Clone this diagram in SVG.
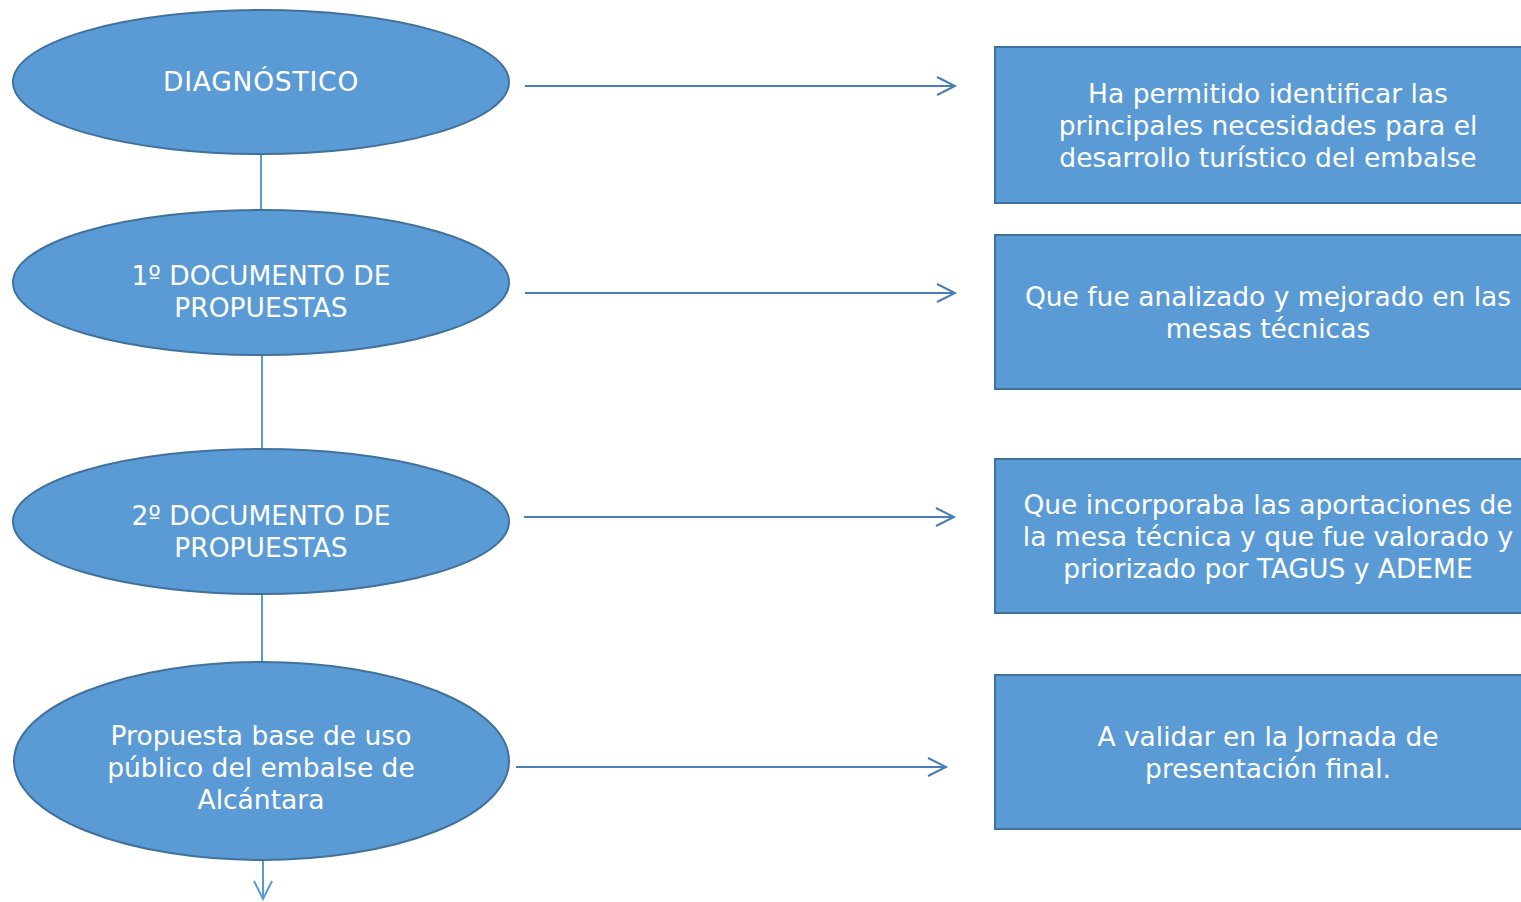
<svg xmlns="http://www.w3.org/2000/svg" width="1521" height="902" viewBox="0 0 1521 902">
<defs>
<style>
.node{fill:#5B9BD5;stroke:#41719C;stroke-width:2}
.t{font-family:"DejaVu Sans","Liberation Sans",sans-serif;font-size:26.5px;fill:#FFFFFF;text-anchor:middle}
.v{stroke:#5B9BD5;stroke-width:2;fill:none}
.h{stroke:#4A7EBB;stroke-width:2;fill:none}
</style>
<marker id="ah" markerUnits="userSpaceOnUse" markerWidth="24" markerHeight="24" viewBox="-20 -12 24 24" refX="0" refY="0" orient="auto">
<path d="M-18,-9 L0,0 L-18,9" fill="none" stroke="#4A7EBB" stroke-width="2"/>
</marker>
<marker id="av" markerUnits="userSpaceOnUse" markerWidth="24" markerHeight="24" viewBox="-20 -12 24 24" refX="0" refY="0" orient="auto">
<path d="M-18,-9 L0,0 L-18,9" fill="none" stroke="#5B9BD5" stroke-width="2"/>
</marker>
</defs>
<rect width="1521" height="902" fill="#FFFFFF"/>
<g id="connectors">
<line class="v" x1="261" y1="154" x2="261" y2="210"/>
<line class="v" x1="262" y1="355" x2="262" y2="449"/>
<line class="v" x1="262" y1="594" x2="262" y2="662"/>
<line class="v" x1="263" y1="860" x2="263" y2="899" marker-end="url(#av)"/>
<line class="h" x1="525" y1="86" x2="955" y2="86" marker-end="url(#ah)"/>
<line class="h" x1="525" y1="293" x2="955" y2="293" marker-end="url(#ah)"/>
<line class="h" x1="524" y1="517" x2="954" y2="517" marker-end="url(#ah)"/>
<line class="h" x1="516" y1="767" x2="946" y2="767" marker-end="url(#ah)"/>
</g>
<g id="n1">
<ellipse class="node" cx="261" cy="82" rx="248" ry="72"/>
<text class="t" x="261" y="91" letter-spacing="0.8">DIAGNÓSTICO</text>
</g>
<g id="n2">
<ellipse class="node" cx="261" cy="282.5" rx="248" ry="72.5"/>
<text class="t" x="261" y="285">1º DOCUMENTO DE</text>
<text class="t" x="261" y="317">PROPUESTAS</text>
</g>
<g id="n3">
<ellipse class="node" cx="261" cy="521.5" rx="248" ry="72.5"/>
<text class="t" x="261" y="525">2º DOCUMENTO DE</text>
<text class="t" x="261" y="557">PROPUESTAS</text>
</g>
<g id="n4">
<ellipse class="node" cx="261.5" cy="761" rx="247.5" ry="99"/>
<text class="t" x="261" y="745">Propuesta base de uso</text>
<text class="t" x="261" y="777">público del embalse de</text>
<text class="t" x="261" y="809">Alcántara</text>
</g>
<g id="r1">
<rect class="node" x="995" y="47" width="546" height="156"/>
<text class="t" x="1268" y="103">Ha permitido identificar las</text>
<text class="t" x="1268" y="135">principales necesidades para el</text>
<text class="t" x="1268" y="167">desarrollo turístico del embalse</text>
</g>
<g id="r2">
<rect class="node" x="995" y="235" width="546" height="154"/>
<text class="t" x="1268" y="306">Que fue analizado y mejorado en las</text>
<text class="t" x="1268" y="338">mesas técnicas</text>
</g>
<g id="r3">
<rect class="node" x="995" y="459" width="546" height="154"/>
<text class="t" x="1268" y="514">Que incorporaba las aportaciones de</text>
<text class="t" x="1268" y="546">la mesa técnica y que fue valorado y</text>
<text class="t" x="1268" y="578">priorizado por TAGUS y ADEME</text>
</g>
<g id="r4">
<rect class="node" x="995" y="675" width="546" height="154"/>
<text class="t" x="1268" y="746">A validar en la Jornada de</text>
<text class="t" x="1268" y="778">presentación final.</text>
</g>
</svg>
